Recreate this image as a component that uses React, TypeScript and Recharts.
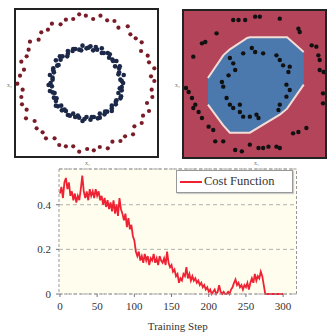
import React from 'react';
import {
  ScatterChart,
  Scatter,
  ComposedChart,
  Area,
  LineChart,
  Line,
  XAxis,
  YAxis,
  CartesianGrid,
  ReferenceLine,
  Legend,
} from 'recharts';

// training set: outer ring (class 0) and inner ring (class 1)
const OUTER_RING: [number, number][] = [
  [1.02, 0.03], [0.97, 0.10], [1.02, 0.22], [0.94, 0.31], [0.92, 0.41], [0.82, 0.48],
  [0.83, 0.61], [0.74, 0.67], [0.66, 0.73], [0.62, 0.85], [0.48, 0.83], [0.42, 0.93],
  [0.31, 0.94], [0.21, 1.01], [0.10, 0.96], [-0.01, 1.01], [-0.11, 1.03], [-0.20, 0.96],
  [-0.31, 0.95], [-0.39, 0.88], [-0.52, 0.89], [-0.58, 0.80], [-0.68, 0.76], [-0.72, 0.65],
  [-0.85, 0.62], [-0.87, 0.50], [-0.90, 0.40], [-0.98, 0.32], [-0.94, 0.20], [-1.0, 0.11],
  [-1.04, -0.01], [-0.96, -0.10], [-0.98, -0.21], [-0.97, -0.32], [-0.90, -0.40], [-0.91, -0.53],
  [-0.78, -0.57], [-0.75, -0.68], [-0.66, -0.74], [-0.61, -0.83], [-0.48, -0.83], [-0.41, -0.93],
  [-0.31, -0.95], [-0.20, -0.95], [-0.11, -1.03], [0.01, -0.99], [0.11, -1.01], [0.20, -0.96],
  [0.32, -0.98], [0.39, -0.88], [0.51, -0.87], [0.58, -0.80], [0.70, -0.77], [0.72, -0.65],
  [0.83, -0.60], [0.85, -0.49], [0.94, -0.42], [0.91, -0.30], [0.99, -0.21], [0.98, -0.10],
];

const INNER_RING: [number, number][] = [
  [0.55, 0.00], [0.51, 0.05], [0.56, 0.12], [0.49, 0.16], [0.49, 0.22], [0.43, 0.25],
  [0.45, 0.33], [0.39, 0.35], [0.34, 0.38], [0.32, 0.45], [0.26, 0.45], [0.23, 0.52],
  [0.16, 0.50], [0.10, 0.49], [0.06, 0.55], [0.00, 0.52], [-0.06, 0.56], [-0.11, 0.50],
  [-0.17, 0.51], [-0.21, 0.48], [-0.28, 0.48], [-0.29, 0.40], [-0.36, 0.40], [-0.39, 0.35],
  [-0.46, 0.34], [-0.44, 0.26], [-0.50, 0.22], [-0.49, 0.16], [-0.55, 0.12], [-0.51, 0.05],
  [-0.54, 0.00], [-0.52, -0.05], [-0.55, -0.12], [-0.48, -0.15], [-0.49, -0.22], [-0.46, -0.27],
  [-0.46, -0.34], [-0.38, -0.34], [-0.37, -0.41], [-0.31, -0.42], [-0.28, -0.48], [-0.20, -0.46],
  [-0.17, -0.51], [-0.11, -0.52], [-0.06, -0.57], [0.00, -0.51], [0.06, -0.55], [0.11, -0.51],
  [0.17, -0.53], [0.20, -0.46], [0.27, -0.47], [0.31, -0.43], [0.38, -0.42], [0.38, -0.34],
  [0.44, -0.32], [0.45, -0.26], [0.51, -0.23], [0.48, -0.15], [0.53, -0.11], [0.53, -0.06],
  [0.53, 0.03], [0.48, 0.13], [0.50, 0.25], [0.40, 0.33], [0.35, 0.43], [0.23, 0.45],
  [0.14, 0.54], [0.03, 0.53], [-0.08, 0.49], [-0.20, 0.51], [-0.28, 0.44], [-0.40, 0.40],
  [-0.42, 0.27], [-0.50, 0.19], [-0.51, 0.08], [-0.57, -0.03], [-0.51, -0.14], [-0.45, -0.23],
  [-0.43, -0.35], [-0.33, -0.40], [-0.25, -0.49], [-0.13, -0.49], [-0.03, -0.54], [0.08, -0.51],
  [0.20, -0.52], [0.28, -0.43], [0.38, -0.38], [0.44, -0.28], [0.52, -0.20], [0.50, -0.08],
];

// test set shown on the decision surface
const TEST_POINTS: [number, number][] = [
  [-0.32, 0.96], [-0.24, 0.96], [-0.14, 0.96], [0.01, 1.01], [0.08, 1.01], [0.38, 0.98],
  [0.66, 0.83], [0.68, 0.78], [-0.57, 0.76], [-0.74, 0.63], [-0.79, 0.61], [-0.92, 0.41],
  [0.86, 0.58], [0.93, 0.56], [0.96, 0.43], [0.98, 0.36], [0.98, 0.21], [1.04, 0.18],
  [1.03, -0.14], [1.03, -0.29], [-1.03, -0.06], [-0.99, -0.12], [-0.94, -0.21], [-0.89, -0.31],
  [-0.92, -0.36], [-0.84, -0.42], [-0.79, -0.51], [-0.69, -0.64], [-0.62, -0.69], [0.58, -0.74],
  [0.66, -0.72], [0.78, -0.66], [-0.59, -0.86], [-0.47, -0.86], [-0.29, -0.99], [-0.19, -1.01],
  [-0.07, -0.91], [0.06, -0.96], [0.13, -0.96], [0.21, -0.94], [0.33, -0.94], [0.38, -0.96],
  [-0.37, 0.39], [-0.32, 0.31], [-0.29, 0.21], [-0.39, 0.13], [-0.17, 0.46], [-0.04, 0.54],
  [0.01, 0.48], [0.13, 0.46], [0.33, 0.43], [0.38, 0.36], [0.43, 0.28], [0.51, 0.18],
  [0.53, 0.26], [-0.49, 0.03], [-0.47, -0.04], [0.48, -0.01], [0.53, -0.09], [0.48, -0.19],
  [0.38, -0.31], [0.36, -0.39], [-0.42, -0.21], [-0.37, -0.31], [-0.32, -0.36], [-0.22, -0.42],
  [-0.17, -0.49], [-0.07, -0.49], [0.03, -0.46], [0.06, -0.51], [-0.22, -0.31],
];

// decision region of the classifier (blue class)
const REGION_X = [-0.70, -0.47, -0.37, -0.11, -0.07, 0.38, 0.49, 0.74];
const REGION_TOP = [0.09, 0.43, 0.52, 0.69, 0.70, 0.70, 0.70, 0.48];
const REGION_BOTTOM = [-0.31, -0.62, -0.73, -0.73, -0.73, -0.46, -0.37, -0.01];

// cost function, one value every STEP_SIZE training steps
const STEP_SIZE = 2;
const COST = [
  0.45, 0.48, 0.43, 0.50, 0.52, 0.47, 0.50, 0.44, 0.46, 0.42,
  0.45, 0.41, 0.44, 0.42, 0.47, 0.53, 0.46, 0.43, 0.46, 0.42,
  0.47, 0.44, 0.46, 0.43, 0.47, 0.44, 0.46, 0.42, 0.44, 0.40,
  0.43, 0.39, 0.42, 0.38, 0.41, 0.37, 0.42, 0.36, 0.40, 0.35,
  0.43, 0.38, 0.36, 0.33, 0.36, 0.30, 0.34, 0.29, 0.31, 0.26,
  0.24, 0.19, 0.17, 0.19, 0.15, 0.17, 0.14, 0.18, 0.15, 0.17,
  0.13, 0.16, 0.15, 0.18, 0.14, 0.16, 0.13, 0.17, 0.15, 0.14,
  0.16, 0.13, 0.19, 0.14, 0.12, 0.13, 0.10, 0.11, 0.08, 0.09,
  0.05, 0.07, 0.06, 0.09, 0.08, 0.12, 0.07, 0.09, 0.06, 0.08,
  0.06, 0.07, 0.05, 0.06, 0.04, 0.05, 0.03, 0.04, 0.02, 0.03,
  0.01, 0.02, 0.00, 0.01, 0.02, 0.00, 0.01, 0.04, 0.01, 0.00,
  0.01, 0.00, 0.00, 0.01, 0.00, 0.02, 0.03, 0.05, 0.065, 0.04,
  0.05, 0.03, 0.04, 0.02, 0.04, 0.03, 0.05, 0.02, 0.05, 0.07,
  0.05, 0.09, 0.06, 0.08, 0.07, 0.10, 0.08, 0.04, 0.00, 0.00,
  0.00, 0.00, 0.00, 0.00, 0.00, 0.00, 0.00, 0.00, 0.00, 0.00,
  0.00,
];

const X_TICKS = [0, 50, 100, 150, 200, 250, 300];
const Y_TICKS = [0, 0.2, 0.4];

const toPoints = (arr: [number, number][]) => arr.map(([x, y]) => ({ x, y }));

const FONT = '"Liberation Serif", "DejaVu Serif", serif';

// small round markers (default scatter symbols are far too large here)
const dot = (r: number, fill: string) => (props: any) => (
  <circle cx={props.cx} cy={props.cy} r={r} fill={fill} />
);

const tinyLabel = (left: number, top: number): React.CSSProperties => ({
  position: 'absolute',
  left,
  top,
  fontSize: 6,
  lineHeight: '6px',
  color: '#777',
  fontFamily: FONT,
});

const CostLegend = () => (
  <div
    style={{
      display: 'flex',
      alignItems: 'center',
      height: 21,
      background: '#fff',
      border: '1px solid #999',
      boxShadow: '1px 1px 1px #ccc',
      fontFamily: FONT,
      fontSize: 12.5,
      color: '#333',
      paddingLeft: 3,
    }}
  >
    <span style={{ display: 'inline-block', width: 22, height: 2, background: '#ee2233', marginRight: 2 }} />
    Cost Function
  </div>
);

export default function App() {
  const regionData = REGION_X.map((x, i) => ({ x, band: [REGION_BOTTOM[i], REGION_TOP[i]] }));
  const costData = COST.map((v, i) => ({ step: i * STEP_SIZE, cost: v }));

  return (
    <div style={{ position: 'absolute', left: 0, top: 0, width: 327, height: 332, background: '#fff', fontFamily: FONT }}>
      {/* left: training data */}
      <div style={{ position: 'absolute', left: 14, top: 8, width: 145, height: 150, border: '2px solid #222', boxSizing: 'border-box' }}>
        <ScatterChart width={141} height={146} margin={{ top: 0, right: 0, bottom: 0, left: 0 }}>
          <XAxis type="number" dataKey="x" domain={[-1.06, 1.06]} hide />
          <YAxis type="number" dataKey="y" domain={[-1.095, 1.095]} hide />
          <Scatter data={toPoints(OUTER_RING)} shape={dot(2.1, '#7a1c28')} isAnimationActive={false} />
          <Scatter data={toPoints(INNER_RING)} shape={dot(2.3, '#1c2848')} isAnimationActive={false} />
        </ScatterChart>
      </div>

      {/* right: decision surface */}
      <div style={{ position: 'absolute', left: 182, top: 9, width: 145, height: 150, border: '2px solid #222', boxSizing: 'border-box', background: '#b3445a' }}>
        <ComposedChart width={141} height={146} data={regionData} margin={{ top: 0, right: 0, bottom: 0, left: 0 }}>
          <XAxis type="number" dataKey="x" domain={[-1.06, 1.06]} hide />
          <YAxis type="number" dataKey="y" domain={[-1.095, 1.095]} hide />
          <Area
            type="linear"
            dataKey="band"
            fill="#4b79ae"
            fillOpacity={1}
            stroke="#f4dcd6"
            strokeWidth={2}
            isAnimationActive={false}
          />
          <Scatter data={toPoints(TEST_POINTS)} shape={dot(2.2, '#111')} isAnimationActive={false} />
        </ComposedChart>
      </div>

      {/* cost over training */}
      <div style={{ position: 'absolute', left: 0, top: 160 }}>
        <LineChart width={327} height={172} data={costData} margin={{ top: 9, right: 30.5, bottom: 0, left: 0 }}>
          <CartesianGrid vertical={false} fill="#fffdee" stroke="#b0b0b0" strokeDasharray="4 3" />
          <XAxis
            type="number"
            dataKey="step"
            domain={[-1.3, 318]}
            ticks={X_TICKS}
            height={38}
            tickSize={3}
            tickMargin={5}
            axisLine={{ stroke: '#999', strokeDasharray: '3 2' }}
            tickLine={{ stroke: '#777' }}
            tick={{ fontSize: 11, fill: '#333', fontFamily: FONT }}
            label={{ value: 'Training Step', position: 'insideBottom', offset: 2, fontSize: 11, fill: '#333', fontFamily: FONT }}
          />
          <YAxis
            type="number"
            domain={[0, 0.56]}
            ticks={Y_TICKS}
            width={59}
            tickSize={3}
            tickMargin={5}
            axisLine={{ stroke: '#999', strokeDasharray: '3 2' }}
            tickLine={{ stroke: '#777' }}
            tick={{ fontSize: 11, fill: '#333', fontFamily: FONT }}
          />
          <ReferenceLine y={0.56} stroke="#999" strokeDasharray="3 2" />
          <ReferenceLine x={318} stroke="#999" strokeDasharray="3 2" />
          <Legend
            layout="horizontal"
            verticalAlign="middle"
            align="center"
            wrapperStyle={{ left: 176, top: 10, width: 117 }}
            content={() => <CostLegend />}
          />
          <Line
            type="linear"
            dataKey="cost"
            stroke="#ee2233"
            strokeWidth={1.8}
            dot={false}
            isAnimationActive={false}
          />
        </LineChart>
      </div>

      <span style={tinyLabel(7, 82)}>x₂</span>
      <span style={tinyLabel(85, 160)}>x₁</span>
      <span style={tinyLabel(175, 82)}>x₂</span>
      <span style={tinyLabel(254, 160)}>x₁</span>
    </div>
  );
}
